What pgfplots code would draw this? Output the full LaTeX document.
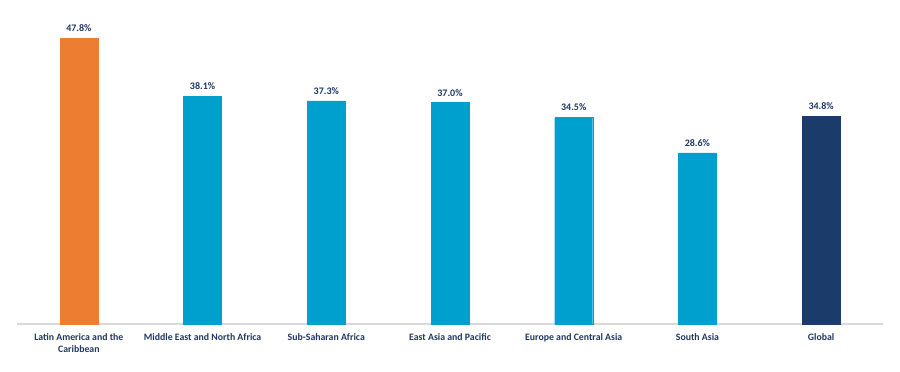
\documentclass[border=0pt]{standalone}
\usepackage{fontspec}
\setmainfont{Carlito}
\usepackage{pgfplots}
\pgfplotsset{compat=1.18}
\definecolor{corange}{HTML}{ED7D31}
\definecolor{cblue}{HTML}{00A0CE}
\definecolor{cnavy}{HTML}{1B3B6B}
\definecolor{ctext}{HTML}{1F3864}
\definecolor{cgrid}{HTML}{D9D9D9}
\begin{document}
\begin{tikzpicture}
\useasboundingbox (-17bp,-48bp) rectangle (883bp,324bp);
\begin{axis}[
  scale only axis,
  width=866bp, height=324bp,
  at={(0,0)}, anchor=south west,
  xmin=-0.5, xmax=6.5,
  ymin=0, ymax=54.15,
  axis y line=none,
  axis x line*=bottom,
  x axis line style={draw=cgrid, line width=1.5bp, -},
  xtick={0,1,2,3,4,5,6},
  xticklabels={{Latin America and the\\Caribbean},{Middle East and North Africa},{Sub-Saharan Africa},{East Asia and Pacific},{Europe and Central Asia},{South Asia},{Global}},
  xticklabel style={align=center, font=\fontsize{9.8bp}{12.5bp}\selectfont\bfseries, text=ctext, anchor=north, yshift=-6bp},
  major tick length=0pt,
  ybar, bar width=38bp, bar shift=0pt,
  /pgf/number format/assume math mode=true,
  nodes near coords={\pgfmathprintnumber[fixed,precision=1,fixed zerofill]{\pgfplotspointmeta}\%},
  every node near coord/.append style={font=\fontsize{10bp}{12bp}\selectfont\bfseries, text=ctext, yshift=3bp},
  clip=false,
]
\addplot[fill=corange, draw=corange] coordinates {(0,47.8)};
\addplot[fill=cblue, draw=cblue] coordinates {(1,38.1) (2,37.3) (3,37.0) (4,34.5) (5,28.6)};
\addplot[fill=cnavy, draw=cnavy] coordinates {(6,34.8)};
\end{axis}
\end{tikzpicture}
\end{document}
